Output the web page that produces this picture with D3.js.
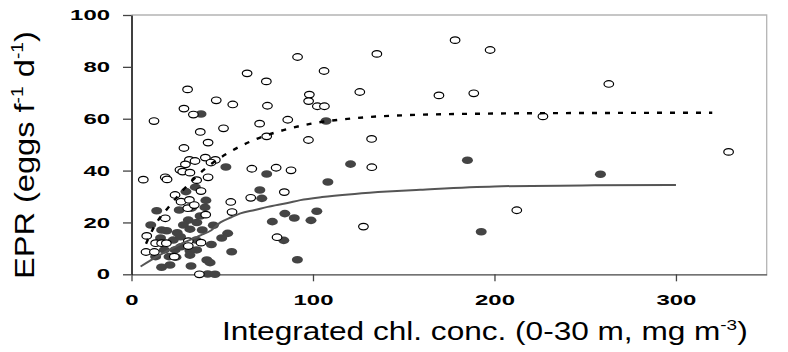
<!DOCTYPE html>
<html>
<head>
<meta charset="utf-8">
<script src="https://cdn.jsdelivr.net/npm/d3@7"></script>
<style>
  body { margin: 0; background: #fff; }
  text { font-family: "Liberation Sans", Arial, sans-serif; }
</style>
</head>
<body>
<div id="chart"></div>
<script>
// open circles (hollow symbols)
var openChl = [178.3,197.6,135.2,91.5,106.1,63.7,74.3,263.0,30.9,125.8,
  98.0,169.4,188.6,97.6,46.7,55.8,74.9,102.4,106.3,28.9,
  34.1,12.4,70.6,86.1,226.7,50.7,37.9,74.5,97.5,132.3,
  329.0,42.2,28.9,31.9,35.0,40.7,46.2,43.8,29.7,26.7,
  28.2,32.2,66.3,79.7,87.9,132.4,6.5,18.6,19.6,35.9,
  42.2,24.0,38.3,27.3,31.9,31.0,34.6,54.7,55.4,65.7,
  84.2,40.9,18.6,127.8,212.3,8.4,13.3,16.6,19.2,31.3,
  31.3,38.3,80.2,8.0,12.6,23.6,37.4];
var openEpr = [90.3,86.5,85.0,83.8,78.4,77.5,74.4,73.4,71.3,70.3,
  69.3,69.0,69.8,66.8,67.1,65.5,65.0,64.8,64.8,63.9,
  61.6,59.1,58.1,59.6,60.9,56.3,54.9,53.2,51.8,52.2,
  47.2,50.8,48.7,44.1,43.7,45.0,44.1,43.1,42.4,40.3,
  39.6,39.2,40.7,41.1,40.1,41.3,36.5,37.4,36.6,36.3,
  37.4,30.6,32.1,28.0,28.7,25.5,26.7,27.9,24.0,29.5,
  31.7,23.0,21.6,18.4,24.7,14.8,12.0,12.0,12.0,12.8,
  10.9,12.2,14.3,8.6,8.6,6.8,0.0];

// filled circles
var filledChl = [38.3,107.2,52.0,74.5,120.7,185.1,258.4,192.7,108.2,70.7,
  71.8,35.2,84.5,89.7,77.6,102.1,98.9,83.9,91.4,30.0,
  13.9,26.3,40.5,37.8,31.3,28.6,45.1,10.6,16.6,19.4,
  25.2,32.2,39.0,53.0,49.7,23.0,35.6,55.2,18.1,24.0,
  27.3,32.2,35.9,13.3,20.7,24.5,32.2,41.5,43.3,16.6,
  21.2,32.8,42.0,46.0,33.0,41.0,27.0,44.0,16.0,36.0];
var filledEpr = [61.8,59.1,41.4,38.7,42.5,44.0,38.6,16.4,35.6,32.5,
  29.3,33.6,23.4,21.7,20.3,24.3,20.8,13.1,5.6,31.9,
  24.5,24.8,25.8,22.5,20.9,19.0,18.9,19.0,17.1,16.8,
  16.0,17.4,17.1,15.8,14.0,13.2,13.2,8.7,9.4,9.4,
  10.6,9.1,9.4,6.8,6.8,6.6,7.4,5.5,4.5,2.7,
  3.6,3.2,0.1,0.0,25.5,28.5,14.5,11.5,14.0,20.0];

// fitted curves
var fitOpenX = [8,12.6,20.8,33.2,42,53.7,67.5,83.7,98.4,123,153,200,250,320];
var fitOpenY = [11.8,18.5,26.2,36,41.5,47,51.8,55.6,58,60.2,61.4,62,62.2,62.3];
var fitFilledX = [5,14,25,38,44,49,55,60,68,75,86,93,105,123,141,159,200,255,300];
var fitFilledY = [3,6.8,11,15,17,20,22,23.5,24.8,26,27.5,28.6,29.8,31,31.9,32.6,33.9,34.3,34.4];

var xTicks = [0,100,200,300];
var yTicks = [0,20,40,60,80,100];

var w = 788, h = 352;
var border = { top: 15, bottom: 274.3, left: 131.5, right: 766.7 };

var svg = d3.select('#chart').append('svg')
  .attr('width', w).attr('height', h);

var x = d3.scaleLinear().domain([0, 350]).range([border.left, border.right]);
var y = d3.scaleLinear().domain([0, 100]).range([border.bottom, border.top]);

// frame top + right (light gray)
svg.append('path')
  .attr('d', `M${border.left},${border.top}H${border.right}V${border.bottom}`)
  .attr('fill', 'none').attr('stroke', '#b4b4b4').attr('stroke-width', 1.3);

var xAxis = svg.append('g')
  .attr('transform', `translate(0,${border.bottom})`)
  .call(d3.axisBottom(x).tickValues(xTicks).tickSize(7).tickSizeOuter(0).tickPadding(13.5));
xAxis.select('.domain').attr('stroke', '#444').attr('stroke-width', 1.3);
xAxis.selectAll('.tick line').attr('stroke', '#444').attr('stroke-width', 1.3);
xAxis.selectAll('.tick text')
  .attr('font-size', 14.5).attr('font-weight', 'bold').attr('fill', '#000')
  .attr('font-family', '"DejaVu Sans", sans-serif')
  .attr('textLength', d => String(d).length * 13.3)
  .attr('lengthAdjust', 'spacingAndGlyphs');

var yAxis = svg.append('g')
  .attr('transform', `translate(${border.left},0)`)
  .call(d3.axisLeft(y).tickValues(yTicks).tickSize(8.5).tickSizeOuter(0).tickPadding(13));
yAxis.select('.domain').attr('stroke', '#000').attr('stroke-width', 1.5);
yAxis.selectAll('.tick line').attr('stroke', '#444').attr('stroke-width', 1.3);
yAxis.selectAll('.tick text')
  .attr('font-size', 14.5).attr('font-weight', 'bold').attr('fill', '#000')
  .attr('font-family', '"DejaVu Sans", sans-serif')
  .attr('textLength', d => String(d).length * 13.3)
  .attr('lengthAdjust', 'spacingAndGlyphs');

// points
var filled = filledChl.map((c, i) => ({ chl: c, epr: filledEpr[i] }));
var open = openChl.map((c, i) => ({ chl: c, epr: openEpr[i] }));

svg.append('g').selectAll('ellipse')
  .data(filled).enter().append('ellipse')
  .attr('cx', d => x(d.chl)).attr('cy', d => y(d.epr))
  .attr('rx', 5.5).attr('ry', 3.8)
  .attr('fill', '#444');

svg.append('g').selectAll('ellipse')
  .data(open).enter().append('ellipse')
  .attr('cx', d => x(d.chl)).attr('cy', d => y(d.epr))
  .attr('rx', 4.8).attr('ry', 3.3)
  .attr('fill', '#fff').attr('stroke', '#000').attr('stroke-width', 1.2);

// fitted lines
var line = d3.line().x(d => x(d[0])).y(d => y(d[1])).curve(d3.curveMonotoneX);

svg.append('path')
  .datum(fitFilledX.map((v, i) => [v, fitFilledY[i]]))
  .attr('d', line)
  .attr('fill', 'none').attr('stroke', '#555').attr('stroke-width', 2);

svg.append('path')
  .datum(fitOpenX.map((v, i) => [v, fitOpenY[i]]))
  .attr('d', line)
  .attr('fill', 'none').attr('stroke', '#000').attr('stroke-width', 2.4)
  .attr('stroke-dasharray', '5,8');

// axis titles
var xt = svg.append('text').attr('font-size', 25).attr('fill', '#000');
xt.append('tspan').text('Integrated chl. conc. (0-30 m, mg m');
xt.append('tspan').attr('font-size', 15).attr('dy', -10).text('-3');
xt.append('tspan').attr('dy', 10).text(')');
var xw = xt.node().getBBox().width;
xt.attr('transform', `translate(222,340) scale(${526 / xw},1)`);

var yt = svg.append('text').attr('font-size', 27).attr('fill', '#000');
yt.append('tspan').text('EPR (eggs f');
yt.append('tspan').attr('font-size', 16).attr('dy', -11).text('-1');
yt.append('tspan').attr('dy', 11).text(' d');
yt.append('tspan').attr('font-size', 16).attr('dy', -11).text('-1');
yt.append('tspan').attr('dy', 11).text(')');
var yw = yt.node().getBBox().width;
yt.attr('transform', `translate(34,279) rotate(-90) scale(${248 / yw},1)`);
</script>
</body>
</html>
